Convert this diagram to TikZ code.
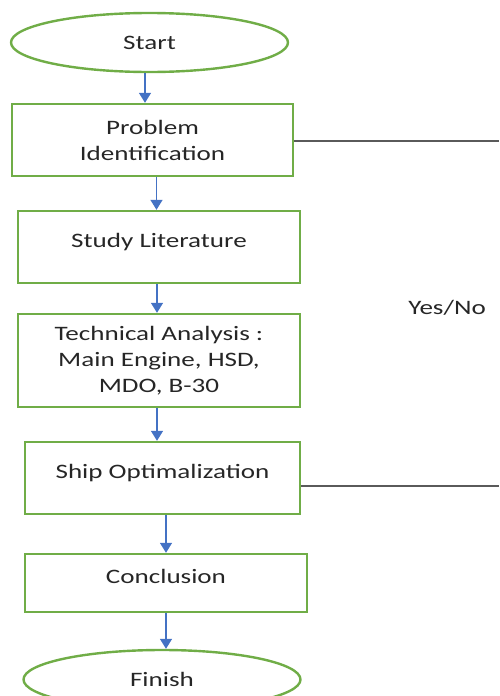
\documentclass[tikz,border=0pt]{standalone}
\usepackage{fontspec}
\setmainfont{Carlito}[FakeStretch=1.32]
\usetikzlibrary{shapes.geometric,arrows.meta}
\definecolor{boxgreen}{HTML}{70AD47}
\definecolor{arrblue}{HTML}{4472C4}
\definecolor{linegray}{HTML}{5A5A5A}
\definecolor{txt}{HTML}{262626}
\tikzset{
  base/.style={draw=boxgreen, line width=2.4pt, text=txt, inner sep=0pt,
    font=\fontsize{20.5}{26}\selectfont, align=center},
  term/.style={base, ellipse},
  proc/.style={base, rectangle},
  basecenter/.style={text height=14pt, text depth=14pt},
  arr/.style={draw=arrblue, line width=1.5pt, -{Triangle[width=12pt,length=10pt]}},
  side/.style={draw=linegray, line width=1.8pt}
}
\begin{document}
\begin{tikzpicture}[x=1pt,y=-1pt]
\useasboundingbox (0,0) rectangle (499,696);
\node[term, minimum width=277pt, minimum height=59pt] (start) at (149.5,42.5) {Start};
\node[proc, minimum width=281pt, minimum height=72pt] (prob) at (152.5,140) {Problem\\Identification};
\node[proc, basecenter, minimum width=282pt, minimum height=72pt] (study) at (159,247) {Study Literature};
\node[proc, minimum width=282pt, minimum height=93pt] (tech) at (159,360.5) {Technical Analysis :\\Main Engine, HSD,\\MDO, B-30};
\node[proc, basecenter, minimum width=275pt, minimum height=72pt] (ship) at (162.5,478) {Ship Optimalization};
\node[proc, basecenter, minimum width=282pt, minimum height=58pt] (concl) at (166,583) {Conclusion};
\node[term, minimum width=277pt, minimum height=59pt] (finish) at (162,679.5) {Finish};
\node[text=txt, font=\fontsize{20.5}{26}\selectfont, inner sep=0pt] (yn) at (447,308) {Yes/No};

\coordinate (a1) at (145,0);
\coordinate (a2) at (156.5,0);
\coordinate (a3) at (157,0);
\coordinate (a4) at (166,0);
\draw[arr] (a1 |- start.south) -- (a1 |- prob.north);
\draw[arr] (a2 |- prob.south) -- (a2 |- study.north);
\draw[arr] (a3 |- study.south) -- (a3 |- tech.north);
\draw[arr] (a3 |- tech.south) -- (a3 |- ship.north);
\draw[arr] (a4 |- ship.south) -- (a4 |- concl.north);
\draw[arr] (a4 |- concl.south) -- (a4 |- finish.north);

\coordinate (e1) at (499,141);
\coordinate (e2) at (499,486);
\draw[side] (e1 -| prob.east) -- (e1);
\draw[side] (e2 -| ship.east) -- (e2);
\end{tikzpicture}
\end{document}
